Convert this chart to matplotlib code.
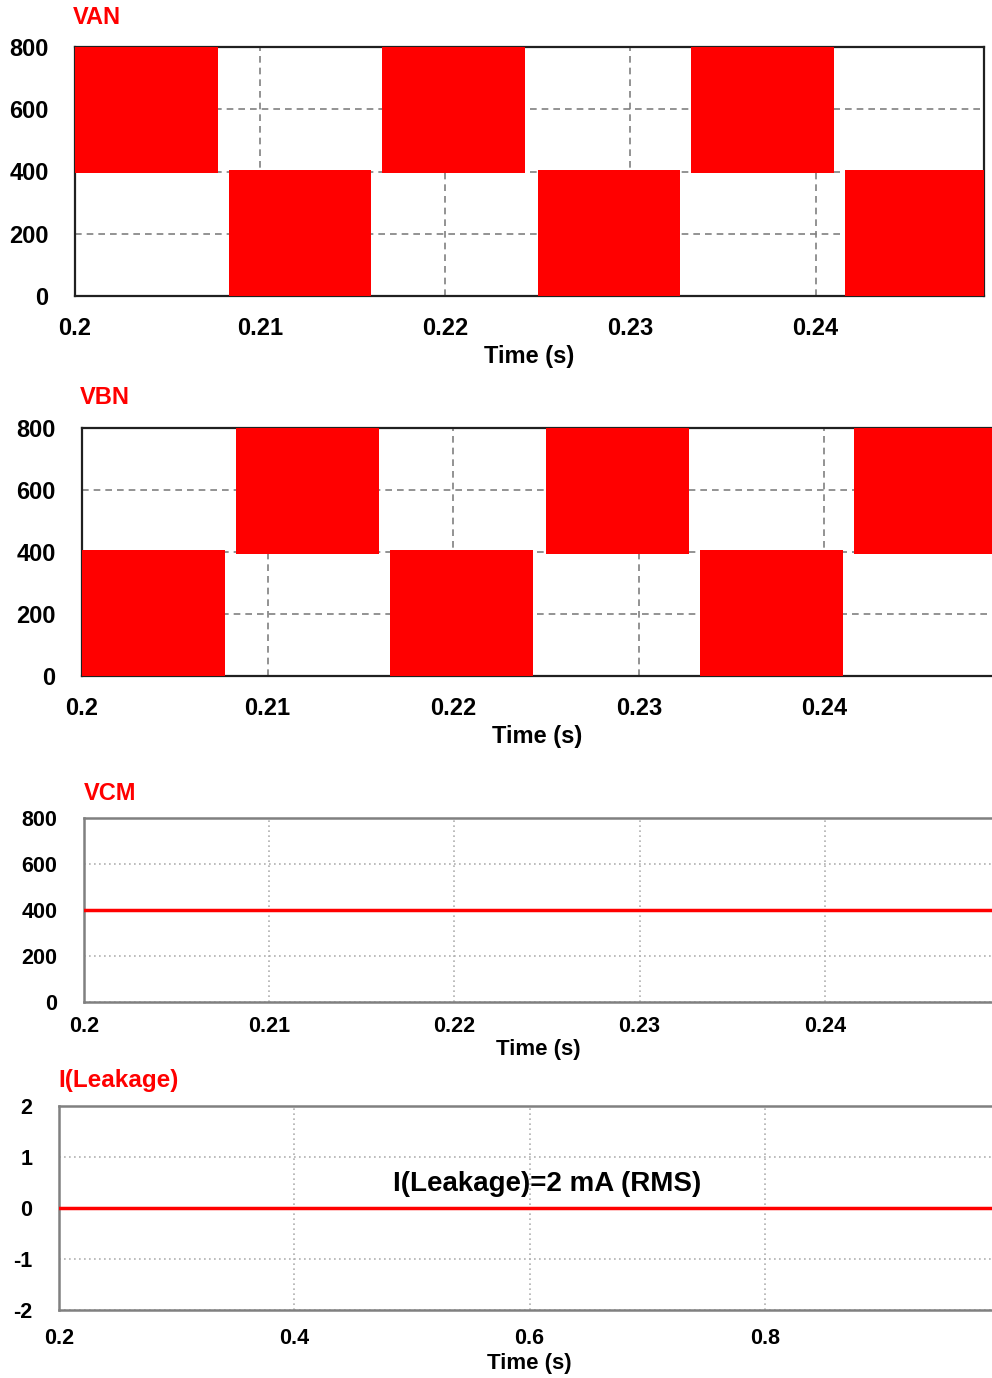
import matplotlib
matplotlib.use('Agg')
import matplotlib.pyplot as plt

# switching data (times in s, levels in V)
van_hi_start = [0.2000, 0.2166, 0.2333]
van_hi_end = [0.2077, 0.2243, 0.2410]
van_lo_start = [0.2083, 0.2250, 0.2416]
van_lo_end = [0.2160, 0.2327, 0.2500]

vbn_hi_start = [0.2083, 0.2250, 0.2416]
vbn_hi_end = [0.2160, 0.2327, 0.2500]
vbn_lo_start = [0.2000, 0.2166, 0.2333]
vbn_lo_end = [0.2077, 0.2243, 0.2410]

hi_band = [395, 800]
lo_band = [0, 405]

vcm_t = [0.2, 0.25]
vcm_v = [400, 400]

leak_t = [0.2, 1.0]
leak_i = [0, 0]

ms_xticks = [0.2, 0.21, 0.22, 0.23, 0.24]
ms_xlabels = ['0.2', '0.21', '0.22', '0.23', '0.24']
v_yticks = [0, 200, 400, 600, 800]
leak_xticks = [0.2, 0.4, 0.6, 0.8, 1.0]
leak_xlabels = ['0.2', '0.4', '0.6', '0.8', '1']
leak_yticks = [-2, -1, 0, 1, 2]
leak_ylabels = ['-2', '-1', '0', '1', '2']

W, H = 992, 1378
RED = '#ff0000'
NARROW = ['Liberation Sans Narrow', 'Liberation Sans', 'DejaVu Sans']
ARIAL = ['Liberation Sans', 'DejaVu Sans']


def box(x0, y0, x1, y1):
    return [x0 / W, 1 - y1 / H, (x1 - x0) / W, (y1 - y0) / H]


fig = plt.figure(figsize=(W / 100, H / 100), dpi=100)


def switching_panel(rect, xmax, hs, he, ls, le, title, tx, ty):
    ax = fig.add_axes(rect)
    ax.set_xlim(0.2, xmax)
    ax.set_ylim(0, 800)
    ax.grid(True, color='#808080', linestyle=(0, (4, 3)), linewidth=1.2)
    ax.set_axisbelow(True)
    for s, e in zip(hs, he):
        ax.bar(s, hi_band[1] - hi_band[0], width=e - s, bottom=hi_band[0],
               align='edge', color=RED, linewidth=0, zorder=3)
    for s, e in zip(ls, le):
        ax.bar(s, lo_band[1] - lo_band[0], width=e - s, bottom=lo_band[0],
               align='edge', color=RED, linewidth=0, zorder=3)
    for sp in ax.spines.values():
        sp.set_color('#202020')
        sp.set_linewidth(1.6)
    ax.set_xticks(ms_xticks)
    ax.set_xticklabels(ms_xlabels)
    ax.set_yticks(v_yticks)
    ax.tick_params(axis='both', length=0, labelsize=17)
    ax.tick_params(axis='y', pad=19)
    ax.tick_params(axis='x', pad=15)
    for lab in ax.get_xticklabels() + ax.get_yticklabels():
        lab.set_family(NARROW)
        lab.set_fontweight('bold')
    fig.text(tx / W, 1 - ty / H, title, color=RED, fontsize=17,
             fontweight='bold', family=ARIAL, va='center', ha='left')
    return ax


ax1 = switching_panel(box(75, 47, 984, 296), 0.2491,
                      van_hi_start, van_hi_end, van_lo_start, van_lo_end,
                      'VAN', 73, 18)
fig.text(529 / W, 1 - 357 / H, 'Time (s)', fontsize=17, fontweight='bold',
         family=NARROW, ha='center', va='center')

ax2 = switching_panel(box(82, 428, 1010, 676), 0.25,
                      vbn_hi_start, vbn_hi_end, vbn_lo_start, vbn_lo_end,
                      'VBN', 80, 398)
fig.text(537 / W, 1 - 737 / H, 'Time (s)', fontsize=17, fontweight='bold',
         family=NARROW, ha='center', va='center')

# VCM
ax3 = fig.add_axes(box(84, 818, 1010, 1002))
ax3.plot(vcm_t, vcm_v, color=RED, linewidth=2.5, zorder=3)
ax3.set_xlim(0.2, 0.25)
ax3.set_ylim(0, 800)
ax3.set_xticks(ms_xticks)
ax3.set_xticklabels(ms_xlabels)
ax3.set_yticks(v_yticks)

# I(Leakage)
ax4 = fig.add_axes(box(59, 1106, 1000, 1310))
ax4.plot(leak_t, leak_i, color=RED, linewidth=2.5, zorder=3)
ax4.set_xlim(0.2, 1.0)
ax4.set_ylim(-2, 2)
ax4.set_xticks(leak_xticks)
ax4.set_xticklabels(leak_xlabels)
ax4.set_yticks(leak_yticks)
ax4.set_yticklabels(leak_ylabels)

for ax, xpad in [(ax3, 10), (ax4, 13)]:
    ax.grid(True, color='#b0b0b0', linestyle=(0, (1, 2)), linewidth=1.2)
    ax.set_axisbelow(True)
    for sp in ax.spines.values():
        sp.set_color('#808080')
        sp.set_linewidth(1.8)
    ax.tick_params(axis='both', length=0, labelsize=15.5)
    ax.tick_params(axis='y', pad=19)
    ax.tick_params(axis='x', pad=xpad)
    for lab in ax.get_xticklabels() + ax.get_yticklabels():
        lab.set_family(ARIAL)
        lab.set_fontweight('bold')

fig.text(84 / W, 1 - 794 / H, 'VCM', color=RED, fontsize=17,
         fontweight='bold', family=ARIAL, va='center')
fig.text(538 / W, 1 - 1050 / H, 'Time (s)', fontsize=16, fontweight='bold',
         family=ARIAL, ha='center', va='center')

fig.text(58 / W, 1 - 1080 / H, 'I(Leakage)', color=RED, fontsize=17.5,
         fontweight='bold', family=ARIAL, va='center')
fig.text(529 / W, 1 - 1364 / H, 'Time (s)', fontsize=16, fontweight='bold',
         family=ARIAL, ha='center', va='center')
ax4.text(0.519, 0.618, 'I(Leakage)=2 mA (RMS)', transform=ax4.transAxes,
         fontsize=20, fontweight='bold', family=ARIAL, ha='center', va='center')

fig.savefig('out.png', dpi=100)
